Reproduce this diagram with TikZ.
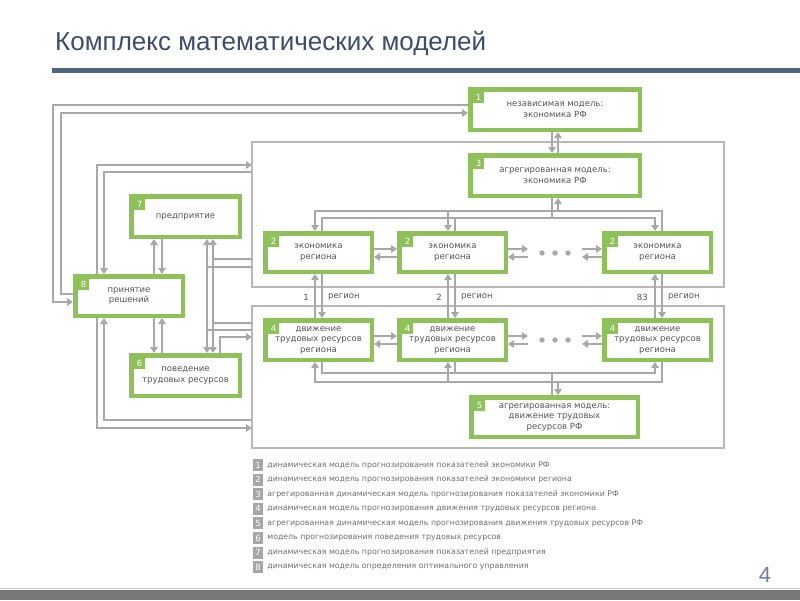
\documentclass[tikz,border=0pt]{standalone}
\usepackage{fontspec}
\setmainfont{DejaVu Sans}
\newfontfamily\titlefont{Liberation Sans}
\usetikzlibrary{arrows.meta,calc}
\definecolor{grn}{HTML}{8FC15A}
\definecolor{cgray}{HTML}{A8A8A8}
\definecolor{fgray}{HTML}{B8B8B8}
\definecolor{txt}{HTML}{555555}
\definecolor{ttl}{HTML}{3C4D69}
\definecolor{rulec}{HTML}{4F6382}
\definecolor{lgtxt}{HTML}{707070}
\definecolor{lgsq}{HTML}{A6A6A6}
\definecolor{pgnum}{HTML}{6F7F99}
\definecolor{barc}{HTML}{787878}
\begin{document}
\begin{tikzpicture}[x=1pt,y=-1pt,
  gbox/.style={draw=grn, line width=4.5pt, fill=white, text=txt, align=center,
    font=\fontsize{8.5}{10.5}\selectfont, inner sep=0pt},
  numsq/.style={fill=grn, text=white, minimum width=11pt, minimum height=11pt,
    inner sep=0pt, font=\fontsize{8.5}{8.5}\selectfont},
  lgsq/.style={fill=lgsq, text=white, minimum width=10pt, minimum height=12pt,
    inner sep=0pt, font=\fontsize{8.5}{8.5}\selectfont},
  lgtext/.style={text=lgtxt, inner sep=0pt, anchor=west, font=\fontsize{7.8}{7.8}\selectfont},
  frame/.style={draw=fgray, line width=1.2pt, inner sep=0pt, outer sep=0pt, anchor=north west},
  lbl/.style={text=txt, inner sep=0pt, font=\fontsize{8.5}{8.5}\selectfont},
  conn/.style={draw=cgray, line width=2.8pt},
  arr/.style={conn, -{Triangle[length=6pt,width=7.5pt]}},
  arrb/.style={conn, {Triangle[length=6pt,width=7.5pt]}-{Triangle[length=6pt,width=7.5pt]}}
]
\useasboundingbox (0,0) rectangle (800,600);
\fill[white] (0,0) rectangle (800,600);

% title
\node[anchor=base west, inner sep=0pt, text=ttl, font=\titlefont\fontsize{26}{26}\selectfont] (title) at (55,50) {Комплекс математических моделей};
\fill[rulec] (52,68) rectangle (800,72.5);

% frames
\node[frame, minimum width=472pt, minimum height=145pt] (fu) at (252,142) {};
\node[frame, minimum width=472pt, minimum height=142pt] (fl) at (252,306) {};

% boxes (path size = outer size - line width)
\node[gbox, minimum width=169.5pt, minimum height=40.5pt] (b1) at (555,109.5) {независимая модель:\\экономика РФ};
\node[gbox, minimum width=169.5pt, minimum height=40.5pt] (b3) at (555,175.5) {агрегированная модель:\\экономика РФ};
\node[gbox, minimum width=106.5pt, minimum height=38.5pt] (b2a) at (318.5,252.5) {экономика\\региона};
\node[gbox, minimum width=106.5pt, minimum height=38.5pt] (b2b) at (452.5,252.5) {экономика\\региона};
\node[gbox, minimum width=106.5pt, minimum height=38.5pt] (b2c) at (657.5,252.5) {экономика\\региона};
\node[gbox, minimum width=106.5pt, minimum height=39.5pt] (b4a) at (318.5,340) {движение\\трудовых ресурсов\\региона};
\node[gbox, minimum width=106.5pt, minimum height=39.5pt] (b4b) at (452.5,340) {движение\\трудовых ресурсов\\региона};
\node[gbox, minimum width=106.5pt, minimum height=39.5pt] (b4c) at (657.5,340) {движение\\трудовых ресурсов\\региона};
\node[gbox, minimum width=166.5pt, minimum height=39.5pt] (b5) at (554.5,417) {агрегированная модель:\\движение трудовых\\ресурсов РФ};
\node[gbox, minimum width=108.5pt, minimum height=40.5pt] (b7) at (185.5,216.5) {предприятие};
\node[gbox, minimum width=107.5pt, minimum height=39.5pt] (b8) at (129,296) {принятие\\решений};
\node[gbox, minimum width=108.5pt, minimum height=40.5pt] (b6) at (185.5,375.5) {поведение\\трудовых ресурсов};

\foreach \b/\n in {b1/1,b3/3,b2a/2,b2b/2,b2c/2,b4a/4,b4b/4,b4c/4,b5/5,b7/7,b8/8,b6/6}
  \node[numsq] (n\b) at ($(\b.north west)+(10.5,10.5)$) {\n};

% outer loop 1 <-> 8
\draw[arr] (b1.west |- 0,105) -| (53,302) -- (b8.west |- 0,302);
\draw[arr] (b8.west |- 0,294) -| (61,113) -- (b1.west |- 0,113);
% 8 <-> upper frame
\draw[arr] (b8.north -| 97,0) |- (fu.west |- 0,165);
\draw[arr] (fu.west |- 0,172) -| (b8.north -| 104,0);
% 8 <-> lower frame
\draw[arr] (b8.south -| 97,0) |- (fl.west |- 0,428);
\draw[arr] (fl.west |- 0,420) -| (b8.south -| 104,0);
% 7 <-> 8, 8 <-> 6
\draw[arr] (b8.north -| 154,0) -- (b7.south -| 154,0);
\draw[arr] (b7.south -| 162,0) -- (b8.north -| 162,0);
\draw[arr] (b8.south -| 154,0) -- (b6.north -| 154,0);
\draw[arr] (b6.north -| 162,0) -- (b8.south -| 162,0);
% 7 / 6 <-> frames
\draw[arrb] (b7.south -| 207,0) -- (b6.north -| 207,0);
\draw[arrb] (b7.south -| 213,0) -- (b6.north -| 213,0);
\draw[conn] (213,259) -- (fu.west |- 0,259);
\draw[conn] (207,267) -- (fu.west |- 0,267);
\draw[conn] (213,323) -- (fl.west |- 0,323);
\draw[conn] (207,330) -- (fl.west |- 0,330);
\draw[arr] (b6.north -| 220,0) |- (fl.west |- 0,337);

% 1 <-> 3
\draw[arr] (b1.south -| 552,0) -- (b3.north -| 552,0);
\draw[arr] (b3.north -| 558,0) -- (b1.south -| 558,0);
% 3 <-> row 2
\draw[arr] (b2c.north -| 662,0) |- (558,211) -- (b3.south -| 558,0);
\draw[arr] (558,211) -| (b2a.north -| 315,0);
\draw[arr] (448,211) -- (b2b.north -| 448,0);
\draw[arr] (b3.south -| 552,0) |- (655,218) -- (b2c.north -| 655,0);
\draw[conn] (552,218) -| (b2a.north -| 322,0);
\draw[conn] (455,218) -- (b2b.north -| 455,0);

% row 2 <-> row 4
\draw[arr] (b4a.north -| 315,0) -- (b2a.south -| 315,0);
\draw[arr] (b2a.south -| 322,0) -- (b4a.north -| 322,0);
\draw[arr] (b4b.north -| 448,0) -- (b2b.south -| 448,0);
\draw[arr] (b2b.south -| 455,0) -- (b4b.north -| 455,0);
\draw[arr] (b4c.north -| 655,0) -- (b2c.south -| 655,0);
\draw[arr] (b2c.south -| 662,0) -- (b4c.north -| 662,0);
\node[lbl, anchor=east] (r1) at (309,297) {1};
\node[lbl, anchor=west] (g1) at (328,297) {регион};
\node[lbl, anchor=east] (r2) at (442,297) {2};
\node[lbl, anchor=west] (g2) at (461,297) {регион};
\node[lbl, anchor=east] (r3) at (648,297) {83};
\node[lbl, anchor=west] (g3) at (668,297) {регион};

% row 4 <-> 5
\draw[arr] (b5.north -| 552,0) |- (655,373) -- (b4c.south -| 655,0);
\draw[conn] (552,373) -| (b4a.south -| 322,0);
\draw[conn] (455,373) -- (b4b.south -| 455,0);
\draw[arr] (b4c.south -| 662,0) |- (558,382) -- (b5.north -| 558,0);
\draw[arr] (558,382) -| (b4a.south -| 315,0);
\draw[arr] (448,382) -- (b4b.south -| 448,0);

% horizontal arrows and dots
\coordinate (dl2) at (528,253);
\coordinate (dr2) at (582,253);
\coordinate (dl4) at (528,340);
\coordinate (dr4) at (582,340);
\draw[arr] (b2a.east |- 0,249) -- (b2b.west |- 0,249);
\draw[arr] (b2b.west |- 0,257) -- (b2a.east |- 0,257);
\draw[arr] (b2b.east |- 0,249) -- (dl2 |- 0,249);
\draw[arr] (dl2 |- 0,257) -- (b2b.east |- 0,257);
\draw[arr] (dr2 |- 0,249) -- (b2c.west |- 0,249);
\draw[arr] (b2c.west |- 0,257) -- (dr2 |- 0,257);
\draw[arr] (b4a.east |- 0,336) -- (b4b.west |- 0,336);
\draw[arr] (b4b.west |- 0,344) -- (b4a.east |- 0,344);
\draw[arr] (b4b.east |- 0,336) -- (dl4 |- 0,336);
\draw[arr] (dl4 |- 0,344) -- (b4b.east |- 0,344);
\draw[arr] (dr4 |- 0,336) -- (b4c.west |- 0,336);
\draw[arr] (b4c.west |- 0,344) -- (dr4 |- 0,344);
\foreach \xx in {542,555,568} {
  \fill[cgray] (\xx,253) circle (2.7);
  \fill[cgray] (\xx,340) circle (2.7);
}

% legend
\foreach \i/\t in {1/динамическая модель прогнозирования показателей экономики РФ,
  2/динамическая модель прогнозирования показателей экономики региона,
  3/агрегированная динамическая модель прогнозирования показателей экономики РФ,
  4/динамическая модель прогнозирования движения трудовых ресурсов региона,
  5/агрегированная динамическая модель прогнозирования движения трудовых ресурсов РФ,
  6/модель прогнозирования поведения трудовых ресурсов,
  7/динамическая модель прогнозирования показателей предприятия,
  8/динамическая модель определения оптимального управления} {
  \node[lgsq] (l\i) at (258,{465+14.6*(\i-1)}) {\i};
  \node[lgtext] (lt\i) at ($(l\i.east)+(4,0)$) {\t};
}

% footer
\node[anchor=base, inner sep=0pt, text=pgnum, font=\titlefont\fontsize{22}{22}\selectfont] (pg) at (765,582) {4};
\fill[barc] (0,589.5) rectangle (800,600);
\draw[draw=rulec!30, line width=0.8pt] (0,588.5) -- (800,588.5);
\end{tikzpicture}
\end{document}
